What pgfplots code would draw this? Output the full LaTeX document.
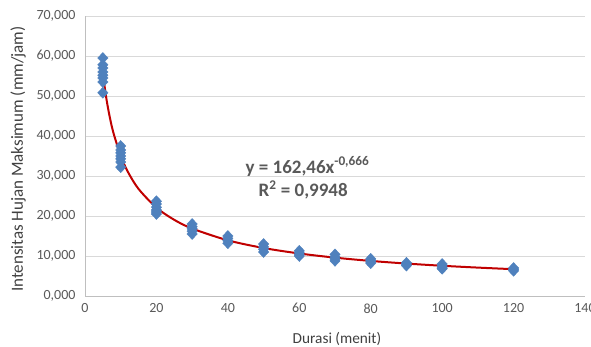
\documentclass[border=0pt]{standalone}
\usepackage{pgfplots}
\pgfplotsset{compat=1.18}
\usepackage{fontspec}
\setmainfont{Carlito}
\definecolor{txtgray}{HTML}{595959}
\definecolor{labgray}{HTML}{404040}
\definecolor{gridgray}{HTML}{D9D9D9}
\definecolor{axgray}{HTML}{BFBFBF}
\definecolor{mblue}{HTML}{4F81BD}
\definecolor{tred}{HTML}{C00000}
\begin{document}
\begin{tikzpicture}
\begin{axis}[
  at={(85bp,51bp)}, anchor=south west,
  scale only axis, width=500bp, height=280bp,
  xmin=0, xmax=140, ymin=0, ymax=70,
  xtick={0,20,...,140}, ytick={0,10,...,70},
  axis x line*=bottom, axis y line*=left,
  axis line style={axgray, line width=0.8bp},
  x axis line style={-}, y axis line style={-},
  major tick length=0pt,
  ymajorgrids, grid style={gridgray, line width=0.8bp},
  tick label style={font=\fontsize{14bp}{16bp}\selectfont, text=txtgray},
  xticklabel style={yshift=-4bp},
  yticklabel style={xshift=-6bp},
  /pgf/number format/assume math mode=true,
  xticklabel={\pgfmathprintnumber[fixed,precision=0]{\tick}},
  yticklabel={\pgfmathprintnumber[fixed,fixed zerofill,precision=3,use comma]{\tick}},
  xlabel={Durasi (menit)}, ylabel={Intensitas Hujan Maksimum (mm/jam)},
  xlabel style={font=\fontsize{15.3bp}{18bp}\selectfont, text=labgray, at={(axis description cs:0.504,-0.1536)}, anchor=center},
  ylabel style={font=\fontsize{17bp}{20bp}\selectfont, text=labgray, at={(axis description cs:-0.134,0.489)}, anchor=center},
  clip=false,
]
\addplot[only marks, mark=diamond*, mark size=5.5bp, mark options={xscale=1.25, fill=mblue, draw=mblue}] coordinates {
(5,59.5)(5,57.8)(5,57.0)(5,56.0)(5,55.2)(5,54.5)(5,53.5)(5,50.8)
(10,37.5)(10,36.5)(10,35.8)(10,35.0)(10,34.3)(10,33.5)(10,32.2)
(20,23.7)(20,23.0)(20,22.2)(20,21.5)(20,21.0)(20,20.5)
(30,18.0)(30,17.3)(30,16.8)(30,16.2)(30,15.5)
(40,15.0)(40,14.4)(40,13.8)(40,13.2)
(50,13.0)(50,12.3)(50,11.7)(50,11.0)
(60,11.3)(60,10.8)(60,10.3)(60,10.0)
(70,10.4)(70,9.8)(70,9.3)(70,8.8)
(80,9.3)(80,8.9)(80,8.5)(80,8.2)
(90,8.3)(90,8.0)(90,7.6)
(100,8.0)(100,7.5)(100,7.0)(100,6.8)
(120,7.0)(120,6.6)(120,6.3)
};
\addplot[tred, line width=2bp, smooth, no marks] coordinates {
(5,55.63)(6,49.26)(7,44.45)(8,40.66)(10,35.06)(12,31.05)(15,26.76)(20,22.09)(25,19.04)(30,16.86)(40,13.92)(50,12.00)(60,10.63)(70,9.59)(80,8.77)(90,8.11)(100,7.56)(110,7.10)(120,6.70)
};
\node[font=\bfseries\fontsize{19bp}{22bp}\selectfont, text=txtgray] at (axis cs:62.3,32.4) {y = 162,46x\textsuperscript{-0,666}};
\node[font=\bfseries\fontsize{19bp}{22bp}\selectfont, text=txtgray] at (axis cs:61.1,26.5) {R\textsuperscript{2} = 0,9948};
\end{axis}
\pgfresetboundingbox
\path[use as bounding box] (0,0) rectangle (591bp,347bp);
\end{tikzpicture}
\end{document}
